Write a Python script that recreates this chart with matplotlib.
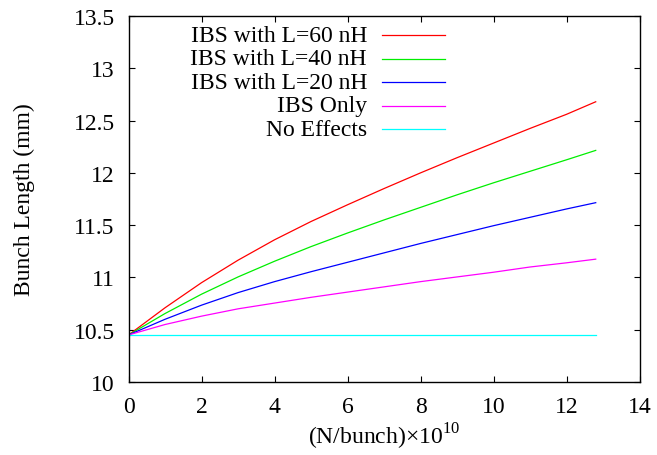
import matplotlib
matplotlib.use("Agg")
import matplotlib.pyplot as plt

plt.rcParams["font.family"] = ["Liberation Serif", "DejaVu Serif"]
plt.rcParams["mathtext.fontset"] = "custom"
plt.rcParams["mathtext.rm"] = "Liberation Serif"

# data
n_bunch = [0, 1, 2, 3, 4, 5, 6, 7, 8, 9, 10, 11, 12, 12.8]
l60 = [10.45, 10.71, 10.95, 11.165, 11.36, 11.535, 11.695, 11.85, 12.00, 12.145, 12.285, 12.425, 12.56, 12.68]
l40 = [10.45, 10.655, 10.84, 11.005, 11.155, 11.295, 11.425, 11.55, 11.67, 11.79, 11.905, 12.015, 12.125, 12.215]
l20 = [10.45, 10.60, 10.735, 10.855, 10.96, 11.055, 11.145, 11.235, 11.325, 11.41, 11.495, 11.575, 11.655, 11.715]
ibs_only = [10.45, 10.55, 10.63, 10.70, 10.755, 10.81, 10.86, 10.91, 10.96, 11.005, 11.05, 11.10, 11.14, 11.175]
no_effects = [10.45] * len(n_bunch)

labels = ["IBS with L=60 nH", "IBS with L=40 nH", "IBS with L=20 nH", "IBS Only", "No Effects"]
series = [l60, l40, l20, ibs_only, no_effects]
colors = ["#ff0000", "#00ee00", "#0000ff", "#ff00ff", "#00ffff"]

fs = 17

fig = plt.figure(figsize=(6.57, 4.56), dpi=100)
ax = fig.add_axes([0.1956, 0.16, 0.7778, 0.8027])

for ys, c in zip(series, colors):
    ax.plot(n_bunch, ys, color=c, linewidth=0.9)

# gnuplot style key: right aligned text, sample line after it
for i, (lab, c) in enumerate(zip(labels, colors)):
    yk = 0.947 - i * 0.0642
    ax.text(0.4667, yk, lab, transform=ax.transAxes, ha="right", va="center", fontsize=fs)
    ax.plot([0.496, 0.619], [yk, yk], transform=ax.transAxes, color=c, linewidth=0.9)

ax.set_xlim(0, 14)
ax.set_ylim(10, 13.5)
ax.set_xticks(range(0, 15, 2))
ax.set_yticks([10, 10.5, 11, 11.5, 12, 12.5, 13, 13.5])
ax.set_yticklabels(["10", "10.5", "11", "11.5", "12", "12.5", "13", "13.5"])

ax.tick_params(direction="in", top=True, right=True, length=4.5, width=0.8, labelsize=fs)
ax.tick_params(axis="x", pad=10)
ax.tick_params(axis="y", pad=10)
for s in ax.spines.values():
    s.set_linewidth(1.0)

ax.set_xlabel(r"(N/bunch)$\times$10$^{10}$", fontsize=fs, labelpad=3)
ax.set_ylabel("Bunch Length (mm)", fontsize=fs, labelpad=28)

fig.savefig("out.png", dpi=100)
